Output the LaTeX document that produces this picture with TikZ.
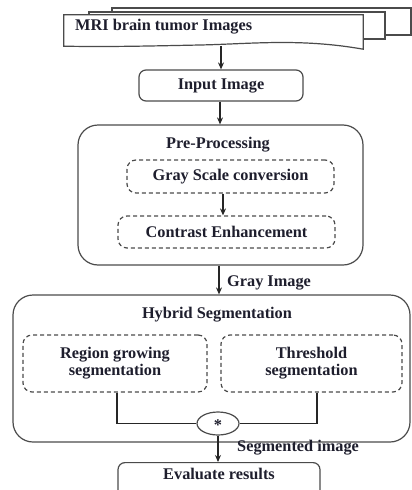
\documentclass[tikz,border=0pt]{standalone}
\usepackage{fontspec}
\setmainfont{Liberation Serif}
\usetikzlibrary{arrows.meta,shapes.geometric}
\definecolor{txt}{RGB}{30,30,45}
\definecolor{edge}{RGB}{75,75,75}
\tikzset{
  lbl/.style={font=\fontsize{16.3}{18}\selectfont\bfseries, text=txt, inner sep=0pt},
  solidbox/.style={draw=edge, line width=1.2pt, rounded corners=7pt, inner sep=0pt},
  bigbox/.style={draw=edge, line width=1.2pt, rounded corners=20pt, inner sep=0pt},
  dashbox/.style={draw=edge, line width=1.2pt, dash pattern=on 4pt off 3pt, rounded corners=9pt, inner sep=0pt, align=center, lbl},
  arr/.style={draw=black!85, line width=1.1pt, -{Stealth[length=7pt,width=6pt]}},
  conn/.style={draw=black!85, line width=1.1pt},
  docshape/.style={draw=edge, line width=1.2pt, fill=white}
}
\begin{document}
\begin{tikzpicture}[x=1pt,y=-1pt]
\useasboundingbox (0,0) rectangle (412,490);
\clip (0,0) rectangle (412,490);
% stacked documents (back to front)
\draw[docshape] (112,8) -- (411,8) -- (411,35) -- (385,35) -- (385,12) -- (112,12) -- cycle;
\draw[docshape] (89,12) -- (385,12) -- (385,39) -- (363,39) -- (363,15) -- (89,15) -- cycle;
\node[inner sep=0pt, minimum width=299pt, minimum height=31pt] (docs) at (213.5,30.5) {};
\draw[docshape] (docs.north west) -- (docs.north east) -- ([yshift=-3pt]docs.south east)
   .. controls (300,38) and (250,44) .. (200,45)
   .. controls (150,46) and (110,47) .. (docs.south west) -- cycle;
\node[lbl, anchor=west] (docstext) at (75,27) {MRI brain tumor Images};
% input
\node[solidbox, lbl, minimum width=164pt, minimum height=31pt] (input) at (221,85.5) {Input Image};
% pre-processing
\node[bigbox, minimum width=285pt, minimum height=140pt] (pre) at (220.5,195) {};
\node[lbl] (pretitle) at (218,145) {Pre-Processing};
\node[dashbox, minimum width=207pt, minimum height=33pt] (gray) at (230.5,176.5) {Gray Scale conversion};
\node[dashbox, minimum width=217pt, minimum height=32pt] (contrast) at (226.5,232) {Contrast Enhancement};
% hybrid segmentation
\node[bigbox, minimum width=397pt, minimum height=147pt] (hyb) at (211.5,368.5) {};
\node[lbl] (hybtitle) at (217,315) {Hybrid Segmentation};
\node[dashbox, minimum width=184pt, minimum height=57pt] (region) at (115,363.5) {Region growing\\[-1pt]segmentation};
\node[dashbox, minimum width=181pt, minimum height=57pt] (thresh) at (311.5,363.5) {Threshold\\[-1pt]segmentation};
\node[ellipse, draw=edge, line width=1.2pt, minimum width=42pt, minimum height=23pt, inner sep=0pt] (star) at (218,423.5) {};
\node[lbl] (startext) at (218,425) {*};
% evaluate
\node[solidbox, minimum width=202pt, minimum height=50pt, anchor=north] (eval) at (219,462) {};
\node[lbl] (evaltext) at (219,474) {Evaluate results};
% connectors
\draw[arr] (input.north |- docs.south) -- (input.north);
\draw[arr] ([xshift=-1pt]input.south) -- ([xshift=-1pt]input.south |- pre.north);
\draw[arr] ([xshift=-7.5pt]gray.south) -- ([xshift=-7.5pt]gray.south |- contrast.north);
\draw[arr] ([xshift=-1.5pt]pre.south) -- ([xshift=-1.5pt]pre.south |- hyb.north);
\node[lbl, anchor=west] (graylbl) at (227,283) {Gray Image};
\draw[conn] ([xshift=2pt]region.south) |- (star.west);
\draw[conn] ([xshift=5.5pt]thresh.south) |- (star.east);
\draw[arr] (star.south) -- (star.south |- eval.north);
\node[lbl, anchor=west] (seglbl) at (237,448) {Segmented image};
\end{tikzpicture}
\end{document}
